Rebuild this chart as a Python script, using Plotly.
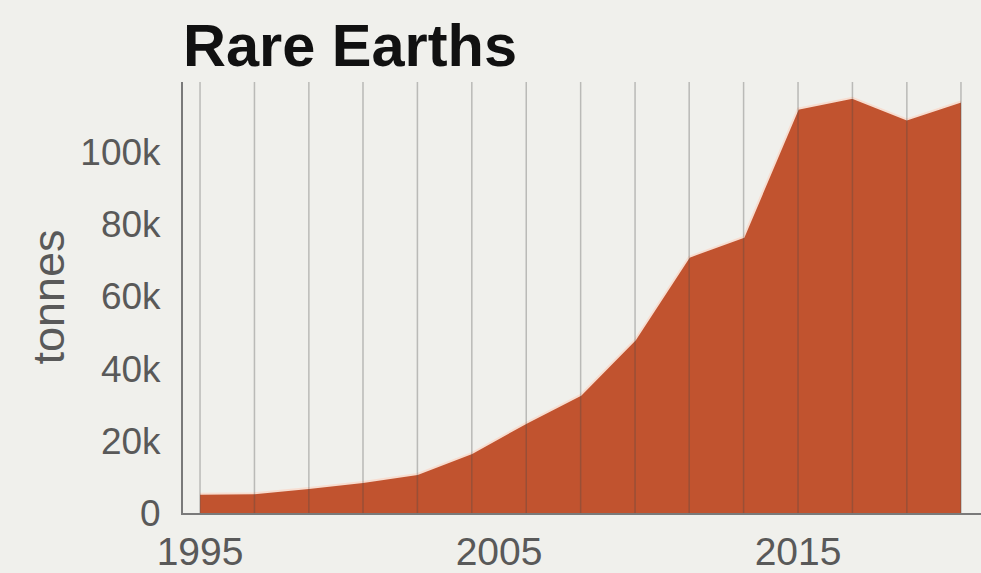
import plotly.graph_objects as go

# Data (thousands of tonnes converted to tonnes)
years = [1995.0, 1996.82, 1998.64, 2000.45, 2002.27, 2004.09, 2005.91, 2007.73,
         2009.55, 2011.36, 2013.18, 2015.0, 2016.82, 2018.64, 2020.45]
tonnes = [5300, 5500, 6900, 8600, 10800, 16600, 25000, 32700,
          48000, 71000, 76500, 112000, 115000, 109000, 114000]
x_tick_vals = [1995, 2005, 2015]
x_tick_text = ["1995", "2005", "2015"]
y_tick_vals = [0, 20000, 40000, 60000, 80000, 100000]
y_tick_text = ["0", "20k", "40k", "60k", "80k", "100k"]

BG = "#f0f0ec"
FILL = "#c1532f"
TEXT = "#595959"

fig = go.Figure()
fig.add_trace(go.Scatter(
    x=years, y=tonnes, mode="lines", fill="tozeroy",
    fillcolor=FILL, line=dict(color="#f7ddd0", width=2),
    hoverinfo="x+y", showlegend=False,
))

# vertical guide lines at each data point, drawn above the area
for yr in years:
    fig.add_shape(type="line", xref="x", yref="paper", x0=yr, x1=yr, y0=0, y1=1,
                  line=dict(color="rgba(70,70,70,0.32)", width=1.5), layer="above")

fig.update_layout(
    width=981, height=573,
    margin=dict(l=183, r=0, t=82, b=60, autoexpand=False),
    paper_bgcolor=BG, plot_bgcolor=BG,
    font=dict(family="Liberation Sans, Arial, sans-serif", color=TEXT),
    title=dict(text="<b>Rare Earths</b>", font=dict(size=59.5, color="#111111",
               family="Liberation Sans, Arial, sans-serif"),
               x=183/981, xanchor="left", xref="container",
               y=1 - 45/573, yanchor="middle", yref="container"),
    xaxis=dict(range=[1994.43, 2021.12], tickvals=x_tick_vals, ticktext=x_tick_text,
               showgrid=False, zeroline=False, showline=True, linecolor="#7a7a7a",
               linewidth=2, ticks="", tickfont=dict(size=39, color=TEXT),
               ticklabelstandoff=3, automargin=False),
    yaxis=dict(range=[0, 119400], tickvals=y_tick_vals, ticktext=y_tick_text,
               showgrid=False, zeroline=False, showline=True, linecolor="#7a7a7a",
               linewidth=2, ticks="", tickfont=dict(size=37, color=TEXT),
               ticklabelstandoff=13, automargin=False),
    annotations=[dict(text="tonnes", textangle=-90, xref="paper", yref="paper",
                      x=-135/798, y=0.5, xanchor="center", yanchor="middle",
                      showarrow=False, font=dict(size=45, color=TEXT))],
)

fig.write_html("out.html")
